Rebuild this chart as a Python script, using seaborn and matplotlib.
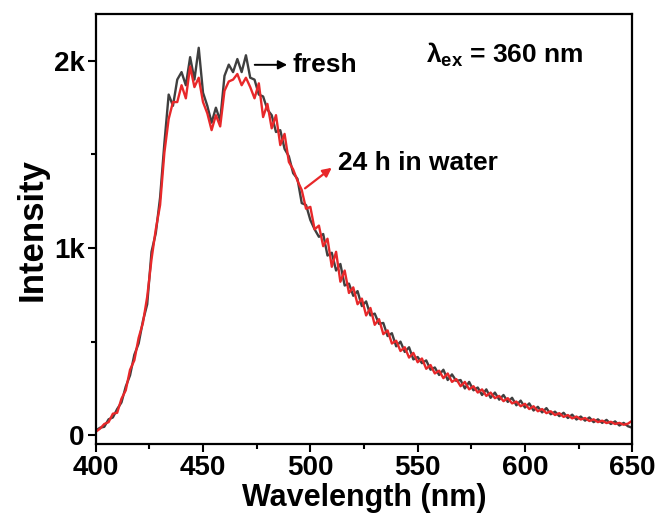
import numpy as np
import pandas as pd
import matplotlib
matplotlib.use("Agg")
import matplotlib.pyplot as plt
from matplotlib.ticker import MultipleLocator, FuncFormatter
import seaborn as sns

# wavelength grid (nm), 2 nm steps
wavelength = list(range(400, 652, 2))

fresh = [
    25, 40, 45, 85, 95, 140, 175, 260, 320, 430,
    490, 610, 700, 980, 1080, 1270, 1560, 1820, 1760, 1900,
    1940, 1870, 2020, 1900, 2070, 1830, 1760, 1670, 1750, 1680,
    1920, 1980, 1940, 2010, 1940, 2030, 1910, 1900, 1820, 1810,
    1740, 1710, 1620, 1630, 1530, 1490, 1400, 1370, 1240, 1230,
    1150, 1100, 1060, 1075, 960, 975, 880, 915, 800, 810,
    745, 770, 690, 715, 640, 650, 595, 600, 530, 545,
    475, 500, 445, 470, 405, 418, 385, 400, 350, 362,
    322, 350, 295, 325, 290, 295, 250, 285, 240, 255,
    215, 245, 200, 228, 190, 215, 178, 200, 160, 185,
    148, 170, 132, 152, 122, 145, 112, 126, 102, 120,
    92, 110, 84, 100, 78, 95, 70, 85, 66, 82,
    60, 74, 52, 66, 48, 40,
]

water_24h = [
    18, 35, 60, 70, 115, 120, 195, 240, 350, 400,
    520, 600, 740, 940, 1100, 1230, 1510, 1690, 1780, 1780,
    1870, 1800, 1970, 1860, 1910, 1780, 1720, 1630, 1710, 1650,
    1840, 1890, 1900, 1930, 1870, 1910, 1860, 1800, 1880, 1700,
    1770, 1640, 1710, 1550, 1610, 1460, 1420, 1360, 1310, 1210,
    1220, 1100, 1120, 1010, 1050, 900, 980, 820, 880, 760,
    790, 700, 730, 640, 680, 590, 620, 540, 560, 490,
    505, 450, 470, 415, 440, 390, 410, 355, 375, 330,
    345, 305, 330, 285, 300, 262, 285, 245, 262, 228,
    245, 210, 228, 198, 210, 182, 198, 170, 180, 155,
    168, 140, 155, 128, 140, 118, 128, 108, 118, 98,
    108, 90, 100, 84, 92, 76, 85, 70, 78, 65,
    72, 60, 66, 56, 62, 78,
]

df = pd.DataFrame({
    "Wavelength": wavelength * 2,
    "Intensity": fresh + water_24h,
    "Sample": ["fresh"] * len(wavelength) + ["24 h in water"] * len(wavelength),
})

sns.set_style("ticks")
plt.rcParams["font.family"] = ["Liberation Sans", "DejaVu Sans"]
plt.rcParams["font.weight"] = "bold"
plt.rcParams["mathtext.fontset"] = "custom"
plt.rcParams["mathtext.rm"] = "Liberation Sans:bold"
plt.rcParams["mathtext.bf"] = "Liberation Sans:bold"
plt.rcParams["mathtext.it"] = "Liberation Sans:bold"
for key in ["text.color", "axes.labelcolor", "xtick.color", "ytick.color"]:
    plt.rcParams[key] = "black"

fig = plt.figure(figsize=(6.6, 5.22), dpi=100)
ax = fig.add_axes([0.145, 0.149, 0.813, 0.824])

sns.lineplot(
    data=df,
    x="Wavelength",
    y="Intensity",
    hue="Sample",
    hue_order=["fresh", "24 h in water"],
    palette=["#3f3f3f", "#e8282a"],
    linewidth=1.7,
    legend=False,
    ax=ax,
)

ax.set_xlim(400, 650)
ax.set_ylim(-48, 2250)
ax.xaxis.set_major_locator(MultipleLocator(50))
ax.xaxis.set_minor_locator(MultipleLocator(25))
ax.yaxis.set_major_locator(MultipleLocator(1000))
ax.yaxis.set_minor_locator(MultipleLocator(500))
ax.yaxis.set_major_formatter(FuncFormatter(lambda v, p: "0" if v == 0 else f"{int(v / 1000)}k"))

for s in ax.spines.values():
    s.set_linewidth(1.6)
    s.set_color("black")
ax.tick_params(which="major", length=6, width=1.5, labelsize=20, direction="out", pad=2)
ax.tick_params(which="minor", length=3.5, width=1.5, direction="out")
for lbl in ax.get_xticklabels() + ax.get_yticklabels():
    lbl.set_fontweight("bold")

ax.set_xlabel("Wavelength (nm)", fontsize=22, fontweight="bold", labelpad=1)
ax.set_ylabel("Intensity", fontsize=25, fontweight="bold", labelpad=4)

ax.annotate(
    "", xy=(490.5, 1979), xytext=(472.8, 1979),
    arrowprops=dict(arrowstyle="-|>", color="black", lw=1.4, mutation_scale=13),
)
ax.text(491.5, 1979, "fresh", fontsize=19, fontweight="bold", va="center", ha="left")

ax.annotate(
    "", xy=(511, 1438), xytext=(496.5, 1310),
    arrowprops=dict(arrowstyle="-|>", color="#e8282a", lw=1.6, mutation_scale=13),
)
ax.text(512.8, 1455, "24 h in water", fontsize=19, fontweight="bold", va="center", ha="left")

ax.text(554.0, 2030, r"$\mathbf{\lambda_{ex}}$ = 360 nm", fontsize=19,
        fontweight="bold", va="center", ha="left")

fig.savefig("out.png", dpi=100)
